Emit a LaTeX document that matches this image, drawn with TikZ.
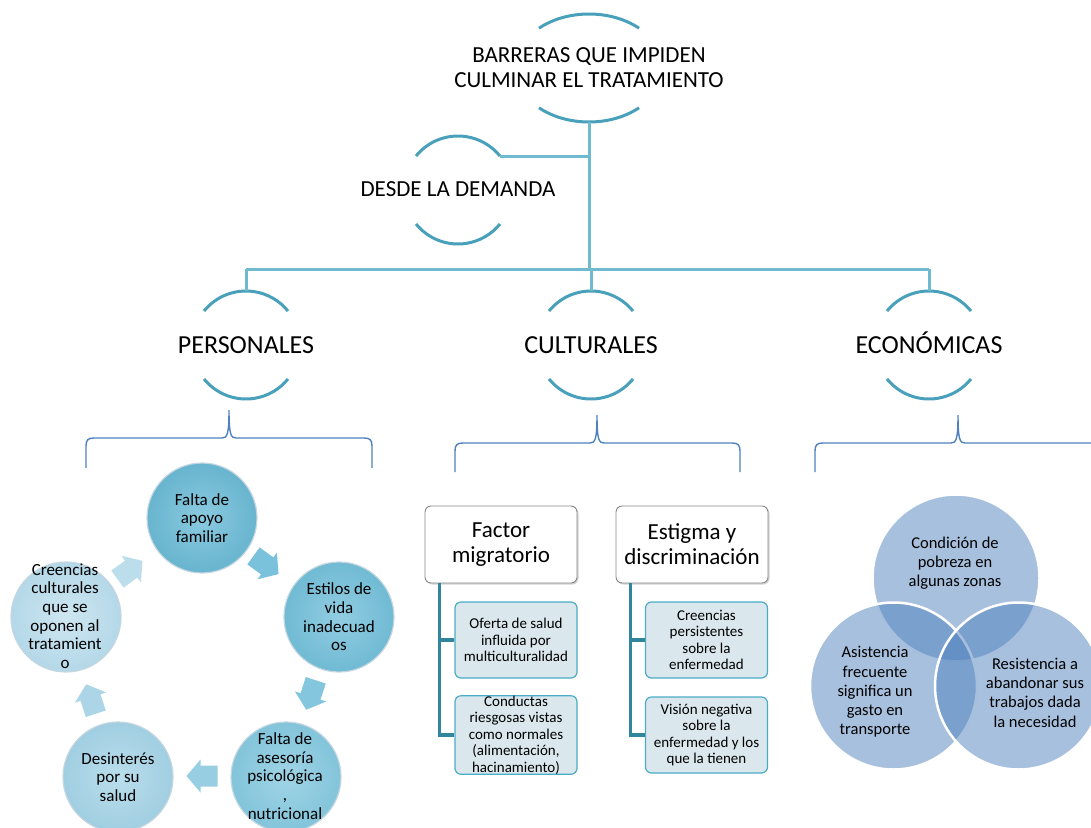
\documentclass[tikz,border=0pt]{standalone}
\usepackage{fontspec}
\setmainfont{Carlito}
\usetikzlibrary{shadows,calc}
\definecolor{arcteal}{RGB}{72,160,186}
\definecolor{linkteal}{RGB}{112,186,207}
\definecolor{bracecol}{RGB}{79,129,189}
\definecolor{treeline}{RGB}{49,133,156}
\definecolor{subfill}{RGB}{218,231,237}
\definecolor{subline}{RGB}{75,172,198}
\definecolor{vennblue}{RGB}{79,129,189}
\definecolor{cyrim}{RGB}{196,214,224}
\definecolor{cAin}{RGB}{138,202,224}\definecolor{cAout}{RGB}{104,180,206}
\definecolor{cBin}{RGB}{145,205,226}\definecolor{cBout}{RGB}{112,186,211}
\definecolor{cCin}{RGB}{160,212,230}\definecolor{cCout}{RGB}{130,196,218}
\definecolor{cDin}{RGB}{186,222,236}\definecolor{cDout}{RGB}{160,206,225}
\definecolor{cEin}{RGB}{206,230,241}\definecolor{cEout}{RGB}{180,216,232}
\definecolor{arA}{RGB}{122,194,219}
\definecolor{arB}{RGB}{132,198,222}
\definecolor{arC}{RGB}{152,206,226}
\definecolor{arD}{RGB}{172,214,231}
\definecolor{arE}{RGB}{188,222,236}
\newcommand{\mybrace}[6]{%
  \draw[bracel] (#1,#6) -- ({#1},{#4+8}) .. controls ({#1},{#4+2}) and ({#1+2},{#4}) .. ({#1+8},{#4})
   -- ({#3-7},{#4}) .. controls ({#3-2},{#4}) and ({#3},{#4-3}) .. ({#3},{#5})
   .. controls ({#3},{#4-3}) and ({#3+2},{#4}) .. ({#3+7},{#4})
   -- ({#2-8},{#4}) .. controls ({#2-2},{#4}) and ({#2},{#4+2}) .. ({#2},{#4+8}) -- (#2,#6);}
\newcommand{\cycarrow}[4]{%
  \fill[#4, shift={(#1,#2)}, rotate=#3] (-15.5,-10.5) -- (1.5,-10.5) -- (1.5,-16.5) -- (15.5,0)
   -- (1.5,16.5) -- (1.5,10.5) -- (-15.5,10.5) -- cycle;}
\begin{document}
\begin{tikzpicture}[x=1pt,y=-1pt,
  arcline/.style={draw=arcteal, line width=3pt},
  link/.style={draw=linkteal, line width=3pt},
  bracel/.style={draw=bracecol, line width=1.4pt},
  lbl/.style={inner sep=0pt, align=center, text=black},
  titlefont/.style={font=\fontsize{23}{25.3}\selectfont},
  levelfont/.style={font=\fontsize{26}{30}\selectfont, anchor=base},
  cyc/.style={circle, minimum size=110pt, inner sep=0pt, draw=cyrim, line width=1.2pt, shading=radial},
  cyctext/.style={lbl, font=\fontsize{17}{18.7}\selectfont},
  headbox/.style={rectangle, rounded corners=6pt, minimum width=152pt, minimum height=77pt, inner sep=0pt,
     fill=white, draw={rgb,255:red,135;green,135;blue,135}, line width=0.9pt, align=center,
     font=\fontsize{23}{25}\selectfont,
     drop shadow={opacity=0.35, shadow xshift=1.5pt, shadow yshift=-1.5pt}},
  subbox/.style={rectangle, rounded corners=6pt, minimum width=122pt, minimum height=76pt, inner sep=0pt,
     fill=subfill, draw=subline, line width=1.2pt, align=center, font=\fontsize{15}{16.5}\selectfont},
  tree/.style={draw=treeline, line width=3.5pt},
  vennc/.style={circle, minimum size=167pt, inner sep=0pt, fill=vennblue, fill opacity=0.5, draw=white, line width=2.5pt},
  venntext/.style={lbl, font=\fontsize{16.5}{19.3}\selectfont}
]
\useasboundingbox (0,0) rectangle (1091,827);
\clip (0,0) rectangle (1091,827);

% ---------- title ----------
\node[lbl, titlefont] (title) at (589,67.5) {BARRERAS QUE IMPIDEN\\CULMINAR EL TRATAMIENTO};
\draw[arcline] (589,68) ++(227.5:74 and 54) arc[start angle=227.5, end angle=312.5, x radius=74, y radius=54];
\draw[arcline] (589,68) ++(132.5:74 and 54) arc[start angle=132.5, end angle=47.5, x radius=74, y radius=54];
\coordinate (titlebot) at (589,122);

% ---------- desde la demanda ----------
\node[lbl, titlefont] (desde) at (458,189) {DESDE LA DEMANDA};
\draw[arcline] (458,190) ++(219:54) arc[start angle=219, end angle=321, radius=54];
\draw[arcline] (458,190) ++(141:54) arc[start angle=141, end angle=39, radius=54];
\coordinate (desdeR) at (500,156);

% ---------- level 2 ----------
\node[lbl, levelfont] (pers) at (246,353.5) {PERSONALES};
\node[lbl, levelfont] (cult) at (591,353.5) {CULTURALES};
\node[lbl, levelfont] (econ) at (929,353.5) {ECONÓMICAS};
\foreach \cx in {246,591,929}{
  \draw[arcline] (\cx,345) ++(219:54) arc[start angle=219, end angle=321, radius=54];
  \draw[arcline] (\cx,345) ++(141:54) arc[start angle=141, end angle=39, radius=54];
}
\coordinate (persTop) at (246,291);
\coordinate (cultTop) at (591,291);
\coordinate (econTop) at (929,291);
\coordinate (bus) at (589,269);
\coordinate (busL) at (246,269);
\coordinate (busR) at (929,269);
\coordinate (branchD) at (589,156);

% connectors
\draw[link] (titlebot) -- (bus);
\draw[link] (desdeR) -- (branchD);
\draw[link] (busL) -- (busR);
\draw[link] (busL) -- (persTop);
\draw[link] (591,269) -- (cultTop);
\draw[link] (busR) -- (econTop);

% ---------- braces ----------
\mybrace{86}{372}{229}{438}{410}{468}
\mybrace{455}{740}{597}{443}{415}{472}
\mybrace{815}{1101}{958}{443}{415}{472}

% ---------- personales cycle ----------
\node[cyc, inner color=cAin, outer color=cAout] (c1) at (202,518) {};
\node[cyc, inner color=cBin, outer color=cBout] (c2) at (339,617) {};
\node[cyc, inner color=cCin, outer color=cCout] (c3) at (286,777) {};
\node[cyc, inner color=cDin, outer color=cDout] (c4) at (118,777) {};
\node[cyc, inner color=cEin, outer color=cEout] (c5) at (66,617) {};
\node[cyctext] (t1) at (c1) {Falta de\\apoyo\\familiar};
\node[cyctext] (t2) at (c2) {Estilos de\\vida\\inadecuad\\os};
\node[cyctext] (t3) at (285,776) {Falta de\\asesoría\\psicológica\\,\\nutricional};
\node[cyctext] (t4) at (c4) {Desinterés\\por su\\salud};
\node[cyctext] (t5) at (65,616) {Creencias\\culturales\\que se\\oponen al\\tratamient\\o};
\cycarrow{266}{565}{-36}{arA}
\cycarrow{311}{695}{-108}{arB}
\cycarrow{202}{776}{180}{arC}
\cycarrow{91}{699}{108}{arD}
\cycarrow{130}{570}{36}{arE}

% ---------- culturales ----------
\node[headbox] (b1) at (501,544.5) {Factor\\migratorio};
\node[headbox] (b2) at (692,544.5) {Estigma y\\discriminación};
\node[subbox] (s1) at (516,640) {Oferta de salud\\influida por\\multiculturalidad};
\node[subbox] (s2) at (516,735) {Conductas\\riesgosas vistas\\como normales\\(alimentación,\\hacinamiento)};
\node[subbox] (s3) at (706.5,640) {Creencias\\persistentes\\sobre la\\enfermedad};
\node[subbox] (s4) at (706.5,735) {Visión negativa\\sobre la\\enfermedad y los\\que la tienen};
\draw[tree] ([xshift=15pt]b1.south west) |- (s1.west);
\draw[tree] ([xshift=15pt]b1.south west) |- (s2.west);
\draw[tree] ([xshift=15pt]b2.south west) |- (s3.west);
\draw[tree] ([xshift=15pt]b2.south west) |- (s4.west);

% ---------- economicas venn ----------
\node[vennc] (v1) at (956,578) {};
\node[vennc] (v2) at (893.5,686) {};
\node[vennc] (v3) at (1018.5,686) {};
\node[venntext] (vt1) at (955,563) {Condición de\\pobreza en\\algunas zonas};
\node[venntext] (vt2) at (875,692) {Asistencia\\frecuente\\significa un\\gasto en\\transporte};
\node[venntext] (vt3) at (1035,692.5) {Resistencia a\\abandonar sus\\trabajos dada\\la necesidad};
\end{tikzpicture}
\end{document}
